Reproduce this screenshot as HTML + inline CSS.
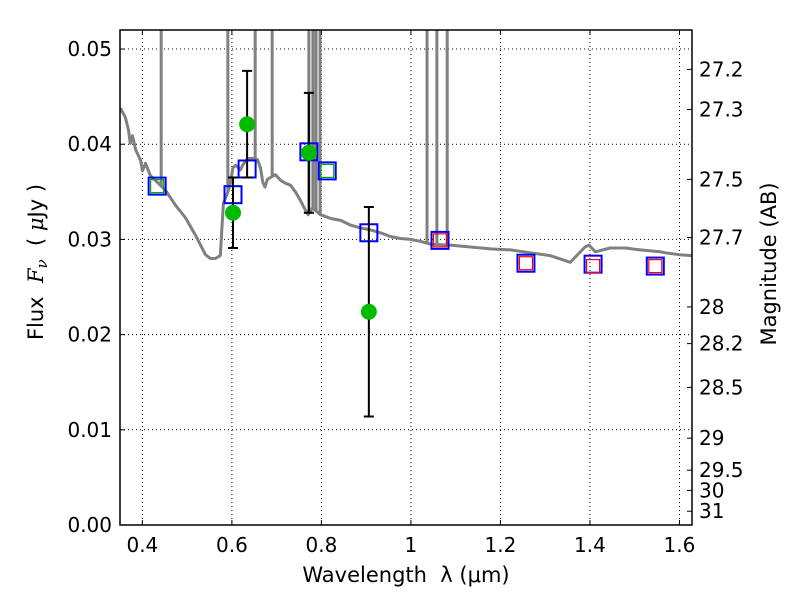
<!DOCTYPE html>
<html><head><meta charset="utf-8"><style>
html,body{margin:0;padding:0;background:#fff;}
svg text{font-family:"DejaVu Sans","Liberation Sans",sans-serif;fill:#000;}
</style></head><body>
<svg id="chart" width="800" height="600" xmlns="http://www.w3.org/2000/svg">
<defs><clipPath id="clip"><rect x="120" y="30" width="572" height="495"/></clipPath></defs>
<rect width="800" height="600" fill="#fff"/>
<g id="grid"></g>
<g id="marks" clip-path="url(#clip)"></g>
<g id="axes"></g>
</svg>
<script>
const xTicks=[0.4,0.6,0.8,1,1.2,1.4,1.6];
const xTickLabels=["0.4","0.6","0.8","1","1.2","1.4","1.6"];
const yTicks=[0,0.01,0.02,0.03,0.04,0.05];
const yTickLabels=["0.00","0.01","0.02","0.03","0.04","0.05"];
const magTicks=[27.2,27.3,27.5,27.7,28,28.2,28.5,29,29.5,30,31];
const modelWave=[0.351,0.362,0.369,0.373,0.378,0.385,0.396,0.400,0.407,0.418,0.429,0.440,0.451,0.474,0.496,0.518,0.541,0.552,0.563,0.574,0.581,0.587,0.593,0.597,0.602,0.608,0.615,0.619,0.624,0.635,0.646,0.657,0.664,0.669,0.674,0.679,0.686,0.697,0.709,0.720,0.731,0.742,0.753,0.764,0.770,0.780,0.798,0.821,0.843,0.865,0.888,0.910,0.932,0.955,0.977,0.999,1.021,1.044,1.088,1.133,1.178,1.222,1.267,1.311,1.356,1.389,1.398,1.412,1.445,1.479,1.512,1.557,1.568,1.600,1.628];
const modelFlux=[0.0438,0.0428,0.0415,0.0401,0.0409,0.0394,0.0383,0.0372,0.0380,0.0367,0.0362,0.0357,0.0352,0.0336,0.0323,0.0305,0.0284,0.0280,0.0280,0.0283,0.0338,0.0345,0.0353,0.0360,0.0375,0.0378,0.0375,0.0373,0.0378,0.0385,0.0385,0.0384,0.0375,0.0360,0.0355,0.0363,0.0365,0.0368,0.0362,0.0359,0.0357,0.0350,0.0341,0.0331,0.0326,0.0333,0.0326,0.0322,0.0320,0.0315,0.0312,0.0310,0.0307,0.0303,0.0301,0.0300,0.0298,0.0295,0.0294,0.0292,0.0290,0.0289,0.0286,0.0283,0.0276,0.0292,0.0294,0.0287,0.0291,0.0291,0.0289,0.0287,0.0286,0.0284,0.0283];
const lineWave=[0.442,0.591,0.652,0.690,0.772,0.781,0.788,0.797,1.036,1.058,1.081];
const bandWave=[0.433,0.6025,0.634,0.772,0.813,0.906,1.065,1.257,1.407,1.546];
const bandFlux=[0.0356,0.0347,0.0374,0.0392,0.0372,0.0307,0.0299,0.0275,0.0274,0.0272];
const greenSqWave=[0.433,0.813];
const greenSqFlux=[0.0356,0.0372];
const redSqWave=[1.065,1.257,1.407,1.546];
const redSqFlux=[0.0299,0.0275,0.0272,0.0272];
const obsWave=[0.6025,0.634,0.772,0.906];
const obsFlux=[0.0328,0.0421,0.0391,0.0224];
const obsErr=[0.0037,0.0056,0.0063,0.0110];

const X0=120,X1=692,Y0=525,Y1=30,xmin=0.35,xmax=1.628,ymin=0,ymax=0.052;
const sx=v=>X0+(v-xmin)/(xmax-xmin)*(X1-X0);
const sy=v=>Y0-(v-ymin)/(ymax-ymin)*(Y0-Y1);
const magToFlux=m=>Math.pow(10,(23.9-m)/2.5);
const NS="http://www.w3.org/2000/svg";
function mk(tag,attrs,parent,txt){const e=document.createElementNS(NS,tag);for(const k in attrs)e.setAttribute(k,attrs[k]);if(txt!==undefined)e.textContent=txt;parent.appendChild(e);return e;}
const grid=document.getElementById('grid'),marks=document.getElementById('marks'),axes=document.getElementById('axes');

xTicks.forEach((t,i)=>{
  const g=mk('line',{x1:sx(t),x2:sx(t),y1:Y1,y2:Y0,stroke:'#000','stroke-width':1,'stroke-dasharray':'1,3'},grid);
  
  mk('line',{x1:sx(t),x2:sx(t),y1:Y0,y2:Y0-5,stroke:'#000'},axes);
  mk('line',{x1:sx(t),x2:sx(t),y1:Y1,y2:Y1+5,stroke:'#000'},axes);
  const l=mk('text',{x:sx(t),y:Y0+27,'font-size':20,'text-anchor':'middle'},axes,xTickLabels[i]);
  
});
yTicks.forEach((t,i)=>{
  const g=mk('line',{x1:X0,x2:X1,y1:sy(t),y2:sy(t),stroke:'#000','stroke-width':1,'stroke-dasharray':'1,3'},grid);
  
  mk('line',{x1:X0,x2:X0+5,y1:sy(t),y2:sy(t),stroke:'#000'},axes);
  const l=mk('text',{x:X0-8,y:sy(t)+7,'font-size':20,'text-anchor':'end'},axes,yTickLabels[i]);
  
});
magTicks.forEach(m=>{
  const y=sy(magToFlux(m));
  mk('line',{x1:X1,x2:X1-5,y1:y,y2:y,stroke:'#000'},axes);
  const l=mk('text',{x:X1+7,y:y+7,'font-size':20},axes,String(m));
  
});

let d='';modelWave.forEach((w,i)=>{d+=(i?'L':'M')+sx(w).toFixed(1)+','+sy(modelFlux[i]).toFixed(1);});
const mc=mk('path',{d:d,fill:'none',stroke:'#808080','stroke-width':3,'stroke-linejoin':'round'},marks);

function modelAt(w){for(let i=1;i<modelWave.length;i++){if(w<=modelWave[i]){const t=(w-modelWave[i-1])/(modelWave[i]-modelWave[i-1]);return modelFlux[i-1]+t*(modelFlux[i]-modelFlux[i-1]);}}return modelFlux[modelFlux.length-1];}
lineWave.forEach(w=>{
  const e=mk('line',{x1:sx(w),x2:sx(w),y1:sy(modelAt(w)),y2:Y1-5,stroke:'#808080','stroke-width':3},marks);
  
});
bandWave.forEach((w,i)=>{
  const e=mk('rect',{x:sx(w)-8.5,y:sy(bandFlux[i])-8.5,width:17,height:17,fill:'none',stroke:'#0000ff','stroke-width':2},marks);
  
});
greenSqWave.forEach((w,i)=>{
  const e=mk('rect',{x:sx(w)-6.5,y:sy(greenSqFlux[i])-6.5,width:13,height:13,fill:'none',stroke:'#00aa00','stroke-width':1.2},marks);
  
});
redSqWave.forEach((w,i)=>{
  const e=mk('rect',{x:sx(w)-6.5,y:sy(redSqFlux[i])-6.5,width:13,height:13,fill:'none',stroke:'#ff0000','stroke-width':1.2},marks);
  
});
obsWave.forEach((w,i)=>{
  const x=sx(w),yt=sy(obsFlux[i]+obsErr[i]),yb=sy(obsFlux[i]-obsErr[i]);
  const e=mk('path',{d:`M${x},${yt}L${x},${yb}M${x-5},${yt}L${x+5},${yt}M${x-5},${yb}L${x+5},${yb}`,stroke:'#000','stroke-width':2,fill:'none'},marks);
  
});
obsWave.forEach((w,i)=>{
  const c=mk('circle',{cx:sx(w),cy:sy(obsFlux[i]),r:8,fill:'#00bb00'},marks);
  
});
const fr=mk('rect',{x:X0,y:Y1,width:X1-X0,height:Y0-Y1,fill:'none',stroke:'#000','stroke-width':1.5},axes);

const xl=mk('text',{x:406,y:582,'font-size':21,'text-anchor':'middle'},axes,'Wavelength\u00a0\u00a0λ\u00a0(μm)');

const yl=mk('text',{x:0,y:0,'font-size':21,'text-anchor':'middle',transform:'translate(43,262) rotate(-90)'},axes);

mk('tspan',{},yl,'Flux\u00a0\u00a0');
mk('tspan',{'font-style':'italic','font-family':'DejaVu Serif, serif'},yl,'F');
mk('tspan',{'font-style':'italic','font-family':'DejaVu Serif, serif','font-size':15,dy:4},yl,'ν');
mk('tspan',{dy:-4},yl,'\u00a0\u00a0(\u00a0');
mk('tspan',{'font-style':'italic','font-family':'DejaVu Serif, serif'},yl,'μ');
mk('tspan',{},yl,'Jy\u00a0)');
const ml=mk('text',{x:0,y:0,'font-size':21,'text-anchor':'middle',transform:'translate(776,264) rotate(-90)'},axes,'Magnitude (AB)');

</script>
</body></html>
